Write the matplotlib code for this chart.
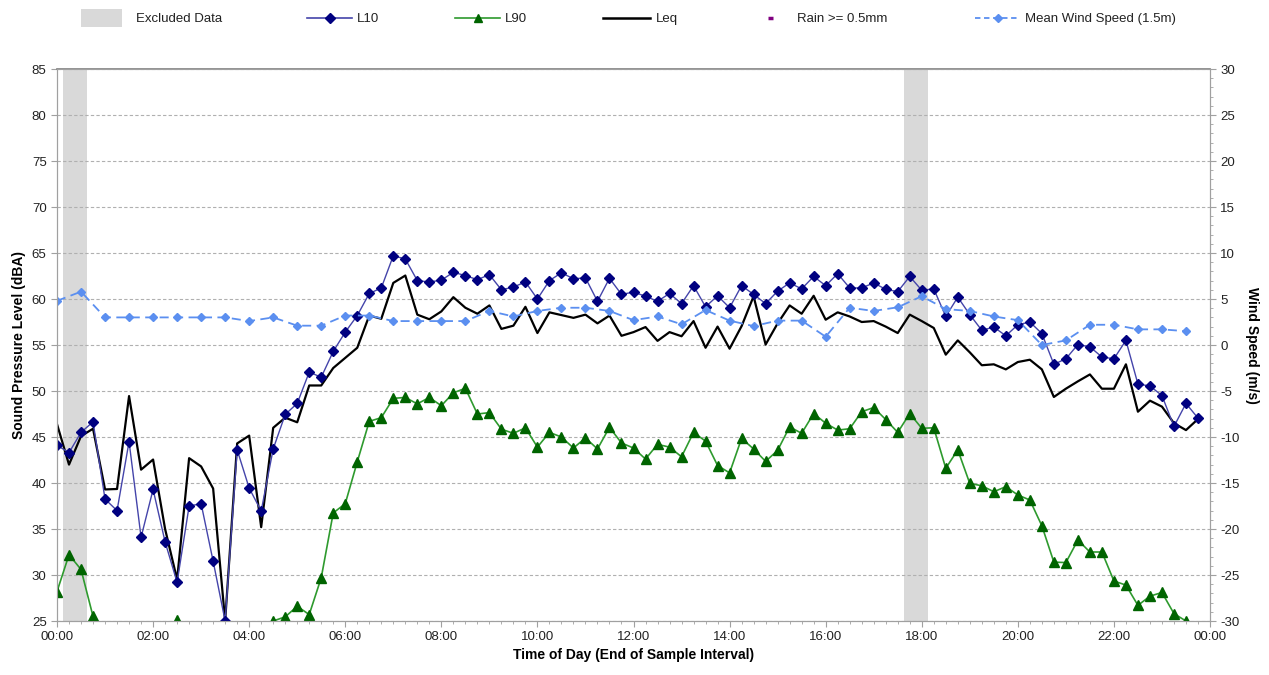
import numpy as np
import matplotlib
matplotlib.use("Agg")
import matplotlib.pyplot as plt
from matplotlib.ticker import MultipleLocator, FuncFormatter
from matplotlib.lines import Line2D
from matplotlib.patches import Rectangle

plt.rcParams['font.family'] = ['Liberation Sans', 'DejaVu Sans']
plt.rcParams['axes.unicode_minus'] = False

# 15-minute sample intervals over one day (hours since midnight)
interval_h = 0.25
n_samples = 96
times = np.arange(n_samples) * interval_h

# Sample intervals flagged as excluded (end-of-interval times, hours)
excluded = [0.25, 0.5, 17.75, 18.0]

L10 = [44.1, 43.3, 45.5, 46.65, 38.25, 37.0, 44.5, 34.1, 39.3, 33.6,
       29.2, 37.5, 37.75, 31.5, 25.0, 43.6, 39.45, 36.95, 43.7, 47.45,
       48.65, 52.05, 51.5, 54.3, 56.4, 58.2, 60.6, 61.2, 64.7, 64.35,
       62.0, 61.85, 62.05, 62.9, 62.55, 62.1, 62.65, 61.0, 61.3, 61.85,
       60.0, 62.0, 62.85, 62.2, 62.3, 59.75, 62.25, 60.5, 60.75, 60.3,
       59.75, 60.6, 59.5, 61.45, 59.15, 60.35, 59.05, 61.45, 60.5, 59.5,
       60.85, 61.75, 61.1, 62.45, 61.45, 62.75, 61.2, 61.2, 61.75, 61.05,
       60.8, 62.45, 60.95, 61.1, 58.1, 60.2, 58.3, 56.6, 56.95, 56.0,
       57.2, 57.5, 56.25, 52.9, 53.5, 55.05, 54.8, 53.7, 53.5, 55.5,
       50.75, 50.55, 49.5, 46.15, 48.65, 47.05]

Leq = [46.4, 42.0, 45.1, 45.9, 39.3, 39.35, 49.45, 41.45, 42.55, 35.0,
       29.5, 42.7, 41.8, 39.4, 25.0, 44.3, 45.15, 35.2, 46.0, 47.1,
       46.6, 50.6, 50.6, 52.5, 53.6, 54.7, 58.2, 57.85, 61.75, 62.55,
       58.3, 57.8, 58.65, 60.2, 59.05, 58.4, 59.3, 56.75, 57.1, 59.15,
       56.3, 58.55, 58.25, 57.95, 58.3, 57.35, 58.2, 56.0, 56.4, 56.95,
       55.45, 56.4, 55.95, 57.6, 54.7, 57.0, 54.6, 57.05, 60.3, 55.05,
       57.35, 59.3, 58.4, 60.35, 57.75, 58.55, 58.1, 57.5, 57.6, 57.0,
       56.3, 58.3, 57.6, 56.85, 53.95, 55.5, 54.2, 52.8, 52.9, 52.35,
       53.15, 53.4, 52.35, 49.35, 50.25, 51.05, 51.8, 50.25, 50.25, 52.9,
       47.75, 48.95, 48.3, 46.5, 45.75, 46.95]

L90 = [28.2, 32.2, 30.6, 25.5, 22.0, 22.0, 22.0, 22.0, 22.0, 22.0,
       25.1, 22.0, 22.0, 22.0, 22.0, 22.0, 22.0, 22.0, 25.0, 25.45,
       26.6, 25.7, 29.7, 36.75, 37.75, 42.3, 46.7, 47.1, 49.2, 49.3,
       48.6, 49.3, 48.4, 49.8, 50.3, 47.5, 47.65, 45.85, 45.4, 46.0,
       43.9, 45.5, 45.0, 43.8, 44.9, 43.7, 46.05, 44.35, 43.8, 42.6,
       44.2, 43.9, 42.85, 45.5, 44.55, 41.9, 41.1, 44.85, 43.7, 42.35,
       43.55, 46.1, 45.4, 47.55, 46.5, 45.75, 45.9, 47.75, 48.2, 46.9,
       45.5, 47.55, 45.95, 46.0, 41.6, 43.6, 39.95, 39.7, 39.05, 39.6,
       38.7, 38.15, 35.35, 31.4, 31.35, 33.8, 32.5, 32.5, 29.35, 28.9,
       26.7, 27.7, 28.1, 25.8, 25.0, 23.0]

# Mean wind speed at 1.5 m, logged every 30 minutes
wind_times = np.arange(0, 24, 0.5)
wind = [4.8, 5.8, 3.0, 3.0, 3.0, 3.0, 3.0, 3.0, 2.6, 3.0,
        2.1, 2.1, 3.2, 3.2, 2.6, 2.6, 2.6, 2.6, 3.7, 3.1,
        3.7, 4.05, 4.05, 3.7, 2.7, 3.1, 2.25, 3.8, 2.65, 2.05,
        2.65, 2.65, 0.9, 4.05, 3.7, 4.1, 5.3, 3.9, 3.7, 3.1,
        2.7, 0.0, 0.5, 2.2, 2.2, 1.7, 1.7, 1.5]

W, H = 1269, 675
fig = plt.figure(figsize=(W / 100, H / 100), dpi=100)
ax = fig.add_axes([57 / W, 1 - 621 / H, (1210 - 57) / W, (621 - 69) / H])
ax2 = ax.twinx()

excl_col = '#d9d9d9'
l10_line, l10_mark = '#4444aa', '#000080'
l90_line, l90_mark = '#2e9a2e', '#006400'
wind_col = '#5b8ff0'
rain_col = '#800080'

for t in excluded:
    ax.axvspan(t - interval_h / 2, t + interval_h / 2, color=excl_col, lw=0, zorder=0)

ax.plot(times, Leq, color='black', lw=1.6, zorder=3)
ax.plot(times, L10, color=l10_line, lw=1.0, marker='D', markersize=5.5,
        markerfacecolor=l10_mark, markeredgecolor=l10_mark, zorder=4)
ax.plot(times, L90, color=l90_line, lw=1.2, marker='^', markersize=6.5,
        markerfacecolor=l90_mark, markeredgecolor=l90_mark, zorder=4)
ax2.plot(wind_times, wind, color=wind_col, lw=1.3, ls=(0, (5, 3)), marker='D',
         markersize=4.5, markerfacecolor=wind_col, markeredgecolor=wind_col)

ax.set_xlim(0, 24)
ax.set_ylim(25, 85)
ax2.set_ylim(-30, 30)

ax.yaxis.set_major_locator(MultipleLocator(5))
ax.grid(axis='y', color='#b0b0b0', ls=(0, (3, 2)), lw=0.8)
ax.set_axisbelow(True)

ax.xaxis.set_major_locator(MultipleLocator(2))
ax.xaxis.set_minor_locator(MultipleLocator(0.25))
ax.xaxis.set_major_formatter(FuncFormatter(lambda v, p: f"{int(round(v)) % 24:02d}:00"))
ax2.yaxis.set_major_locator(MultipleLocator(5))
ax2.yaxis.set_minor_locator(MultipleLocator(1))

for a in (ax, ax2):
    for side in a.spines:
        a.spines[side].set_color('#a0a0a0')
        a.spines[side].set_linewidth(0.8)
    a.tick_params(colors='#a0a0a0', labelcolor='#222222', labelsize=9.5,
                  length=4, width=0.8)
    a.tick_params(which='minor', colors='#a0a0a0', length=2.5, width=0.6)
ax.spines['top'].set_color('#808080')
ax.spines['top'].set_linewidth(1.2)

ax.set_xlabel('Time of Day (End of Sample Interval)', fontsize=10, fontweight='bold',
              labelpad=3)
ax.set_ylabel('Sound Pressure Level (dBA)', fontsize=10, fontweight='bold', labelpad=4)
ax2.set_ylabel('Wind Speed (m/s)', fontsize=10, fontweight='bold', rotation=270,
               labelpad=14)

# Legend row across the top, laid out in figure pixel coordinates
def fx(px):
    return px / W

def fy(py):
    return 1 - py / H

ly = 18
fig.patches.append(Rectangle((fx(81), fy(27)), fx(122) - fx(81), fy(9) - fy(27),
                             transform=fig.transFigure, facecolor=excl_col,
                             edgecolor='none'))
fig.lines.append(Line2D([fx(307), fx(352)], [fy(ly)] * 2, transform=fig.transFigure,
                        color=l10_line, lw=1.2))
fig.lines.append(Line2D([fx(329.5)], [fy(ly)], transform=fig.transFigure, marker='D',
                        markersize=5, color=l10_mark))
fig.lines.append(Line2D([fx(455), fx(500)], [fy(ly)] * 2, transform=fig.transFigure,
                        color=l90_line, lw=1.2))
fig.lines.append(Line2D([fx(477.5)], [fy(ly)], transform=fig.transFigure, marker='^',
                        markersize=6, color=l90_mark))
fig.lines.append(Line2D([fx(603), fx(650)], [fy(ly)] * 2, transform=fig.transFigure,
                        color='black', lw=1.8))
fig.lines.append(Line2D([fx(768), fx(773)], [fy(ly)] * 2, transform=fig.transFigure,
                        color=rain_col, lw=2.5, solid_capstyle='butt'))
fig.lines.append(Line2D([fx(975), fx(1020)], [fy(ly)] * 2, transform=fig.transFigure,
                        color=wind_col, lw=1.3, ls=(0, (3, 2))))
fig.lines.append(Line2D([fx(997.5)], [fy(ly)], transform=fig.transFigure, marker='D',
                        markersize=4.5, color=wind_col))

legend_text = [(136, 'Excluded Data'), (357, 'L10'), (505, 'L90'), (656, 'Leq'),
               (797, 'Rain >= 0.5mm'), (1025, 'Mean Wind Speed (1.5m)')]
for px, txt in legend_text:
    fig.text(fx(px), fy(ly + 4), txt, fontsize=9.5, color='#222222', ha='left',
             va='baseline')

fig.savefig('out.png', dpi=100)
